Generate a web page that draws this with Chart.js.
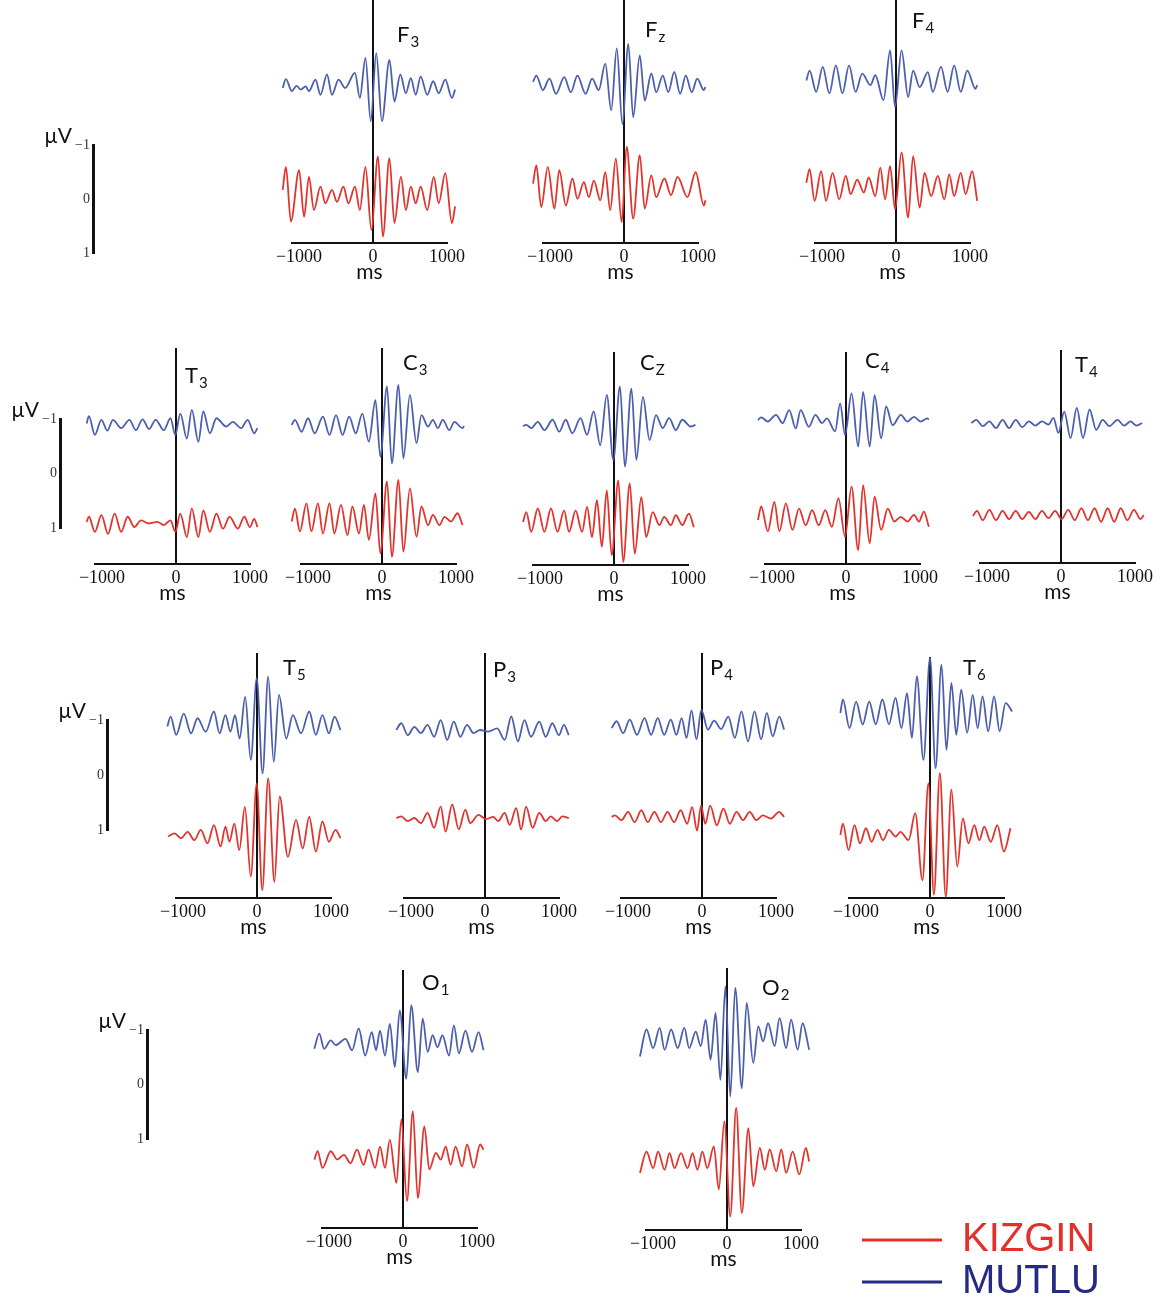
<!DOCTYPE html>
<html>
<head>
<meta charset="utf-8">
<title>KIZGIN / MUTLU</title>
<script src="https://cdn.jsdelivr.net/npm/chart.js@4.4.0/dist/chart.umd.min.js"></script>
<style>
    html, body { margin: 0; background: #fff; }
    #figure { position: relative; width: 1161px; height: 1302px; overflow: hidden; }
    .panel { position: absolute; }
</style>
</head>
<body>
<div id="figure"></div>
<script>
// Electrodes, with the letter and subscript used for each panel title
const ELECTRODES = ['F3', 'Fz', 'F4', 'T3', 'C3', 'Cz', 'C4', 'T4', 'T5', 'P3', 'P4', 'T6', 'O1', 'O2'];
const ELECTRODE_TEXT = [['F', '3'], ['F', 'z'], ['F', '4'], ['T', '3'], ['C', '3'], ['C', 'Z'], ['C', '4'], ['T', '4'], ['T', '5'], ['P', '3'], ['P', '4'], ['T', '6'], ['O', '1'], ['O', '2']];
const GROUPS = ['KIZGIN', 'MUTLU'];
const X_TICKS = [-1000, 0, 1000];
const SCALE_TICKS = [-1, 0, 1];

// Averaged waveforms as [time ms, amplitude µV] at successive peaks and troughs (negative up)
const F3_MUTLU = [[-1221, 0], [-1177, -0.17], [-1097, 0.06], [-1035, -0.04], [-977, 0.03], [-910, -0.03], [-866, 0.06], [-777, -0.16], [-710, 0.13], [-622, -0.26], [-555, 0.13], [-466, -0.16], [-377, 0], [-244, -0.29], [-178, 0.19], [-102, -0.58], [-31, 0.64], [44, -0.67], [120, 0.64], [222, -0.54], [289, 0.26], [369, -0.26], [444, 0.10], [511, -0.19], [577, 0.13], [644, -0.22], [733, 0.13], [813, -0.13], [888, 0.10], [977, -0.16], [1066, 0.19], [1110, 0.03]];
const F3_KIZGIN = [[-1221, -0.10], [-1177, -0.54], [-1110, 0.51], [-999, -0.48], [-932, 0.42], [-866, -0.35], [-799, 0.29], [-710, -0.16], [-644, 0.16], [-555, -0.10], [-488, 0.13], [-400, -0.16], [-333, 0.16], [-244, -0.16], [-178, 0.29], [-102, -0.54], [-22, 0.67], [67, -0.74], [133, 0.80], [222, -0.71], [289, 0.54], [377, -0.35], [444, 0.29], [511, -0.16], [577, 0.16], [644, -0.16], [733, 0.29], [821, -0.35], [888, 0.16], [977, -0.42], [1066, 0.54], [1110, 0.22]];
const FZ_MUTLU = [[-1230, -0.10], [-1185, -0.22], [-1097, 0.06], [-1008, -0.16], [-919, 0.13], [-808, -0.19], [-719, 0.10], [-630, -0.22], [-519, 0.13], [-431, -0.16], [-342, 0.06], [-253, -0.45], [-173, 0.45], [-98, -0.74], [-22, 0.71], [58, -0.83], [124, 0.58], [213, -0.61], [280, 0.26], [369, -0.26], [435, 0.10], [524, -0.22], [599, 0.10], [679, -0.29], [759, 0.13], [835, -0.22], [915, 0.10], [990, -0.16], [1079, 0.06], [1101, 0]];
const FZ_KIZGIN = [[-1230, -0.16], [-1185, -0.51], [-1119, 0.29], [-1030, -0.48], [-941, 0.32], [-875, -0.42], [-786, 0.26], [-697, -0.26], [-630, 0.13], [-542, -0.19], [-475, 0.10], [-408, -0.22], [-320, 0.16], [-253, -0.38], [-186, 0.35], [-111, -0.64], [-31, 0.58], [36, -0.87], [124, 0.51], [213, -0.71], [280, 0.32], [369, -0.32], [435, 0.10], [546, -0.26], [635, 0.06], [724, -0.29], [857, 0.10], [968, -0.38], [1079, 0.26], [1101, 0.16]];
const F4_MUTLU = [[-1212, -0.03], [-1168, -0.22], [-1079, 0.19], [-990, -0.29], [-901, 0.22], [-813, -0.32], [-724, 0.22], [-635, -0.32], [-546, 0.19], [-457, -0.16], [-346, 0.06], [-280, -0.13], [-169, 0.35], [-80, -0.61], [-13, 0.48], [75, -0.61], [164, 0.29], [231, -0.22], [320, 0.10], [431, -0.19], [497, 0.19], [608, -0.29], [697, 0.19], [786, -0.32], [875, 0.19], [963, -0.22], [1074, 0.13], [1097, 0.06]];
const F4_KIZGIN = [[-1212, -0.16], [-1168, -0.42], [-1101, 0.19], [-1012, -0.38], [-946, 0.19], [-857, -0.35], [-768, 0.16], [-679, -0.29], [-613, 0.06], [-524, -0.22], [-435, 0.03], [-369, -0.26], [-280, 0.10], [-213, -0.45], [-147, 0.16], [-80, -0.48], [-13, 0.35], [75, -0.74], [164, 0.51], [231, -0.67], [320, 0.32], [386, -0.35], [475, 0.10], [564, -0.29], [653, 0.16], [719, -0.32], [786, 0.10], [875, -0.35], [941, 0.06], [1030, -0.38], [1097, 0.19]];
const T3_MUTLU = [[-1208, -0.03], [-1177, -0.17], [-1097, 0.19], [-1008, -0.10], [-928, 0.11], [-852, -0.10], [-741, 0.06], [-630, -0.10], [-542, 0.10], [-453, -0.11], [-364, 0.08], [-275, -0.10], [-164, 0.10], [-75, -0.13], [-9, 0.19], [58, -0.22], [147, 0.26], [213, -0.29], [302, 0.32], [369, -0.26], [457, 0.16], [546, -0.13], [679, 0.03], [768, -0.06], [879, 0.06], [968, -0.10], [1057, 0.16], [1101, 0.06]];
const T3_KIZGIN = [[-1208, -0.02], [-1177, -0.12], [-1097, 0.17], [-1008, -0.15], [-919, 0.21], [-830, -0.18], [-741, 0.17], [-653, -0.12], [-564, 0.08], [-475, -0.05], [-364, 0.01], [-253, -0.02], [-164, 0.04], [-75, -0.05], [-9, 0.17], [58, -0.18], [147, 0.27], [213, -0.28], [302, 0.27], [369, -0.24], [457, 0.17], [546, -0.18], [635, 0.11], [724, -0.12], [835, 0.11], [923, -0.12], [999, 0.08], [1057, -0.08], [1101, 0.08]];
const C3_MUTLU = [[-1221, 0], [-1177, -0.10], [-1088, 0.13], [-999, -0.13], [-910, 0.16], [-799, -0.16], [-710, 0.19], [-622, -0.19], [-533, 0.19], [-444, -0.16], [-355, 0.16], [-266, -0.22], [-178, 0.32], [-89, -0.48], [-22, 0.61], [67, -0.74], [133, 0.74], [222, -0.77], [289, 0.64], [377, -0.58], [466, 0.35], [533, -0.19], [622, 0.03], [688, -0.10], [755, 0.06], [821, -0.10], [910, 0.10], [977, -0.06], [1088, 0.06], [1110, 0.02]];
const C3_KIZGIN = [[-1221, 0.03], [-1177, -0.22], [-1110, 0.22], [-1021, -0.32], [-955, 0.22], [-866, -0.32], [-799, 0.26], [-710, -0.32], [-644, 0.26], [-555, -0.29], [-466, 0.29], [-400, -0.26], [-311, 0.26], [-244, -0.29], [-178, 0.38], [-89, -0.51], [-22, 0.64], [67, -0.74], [133, 0.71], [222, -0.77], [289, 0.61], [377, -0.61], [466, 0.32], [533, -0.26], [622, 0.10], [688, -0.10], [777, 0.10], [844, -0.06], [932, 0.03], [1021, -0.13], [1088, 0.10]];
const CZ_MUTLU = [[-1230, 0], [-1185, -0.02], [-1119, 0.04], [-1030, -0.08], [-941, 0.08], [-830, -0.12], [-741, 0.11], [-653, -0.12], [-564, 0.14], [-453, -0.15], [-364, 0.17], [-275, -0.28], [-186, 0.37], [-98, -0.60], [-9, 0.65], [80, -0.76], [147, 0.78], [235, -0.72], [302, 0.65], [391, -0.56], [480, 0.27], [568, -0.21], [657, 0.04], [746, -0.15], [835, 0.08], [923, -0.12], [1035, 0.01], [1101, -0.02]];
const CZ_KIZGIN = [[-1230, 0], [-1185, -0.19], [-1119, 0.19], [-1030, -0.26], [-941, 0.19], [-852, -0.26], [-764, 0.19], [-675, -0.22], [-608, 0.19], [-519, -0.22], [-431, 0.19], [-364, -0.29], [-297, 0.29], [-231, -0.42], [-164, 0.48], [-98, -0.61], [-31, 0.64], [58, -0.80], [124, 0.77], [213, -0.74], [280, 0.61], [369, -0.48], [435, 0.29], [524, -0.19], [613, 0.06], [679, -0.10], [768, 0.06], [835, -0.13], [923, 0.06], [1012, -0.16], [1079, 0.10]];
const C4_MUTLU = [[-1190, 0], [-1146, -0.05], [-1057, 0.03], [-946, -0.10], [-857, 0.06], [-768, -0.19], [-679, 0.16], [-613, -0.19], [-502, 0.13], [-413, -0.10], [-324, 0.06], [-258, -0.03], [-147, 0.22], [-80, -0.32], [-13, 0.29], [75, -0.51], [164, 0.51], [231, -0.54], [320, 0.51], [386, -0.48], [475, 0.35], [542, -0.26], [630, 0.10], [741, -0.10], [830, 0.03], [919, -0.06], [1008, 0.03], [1097, -0.03], [1119, -0.01]];
const C4_KIZGIN = [[-1190, 0], [-1146, -0.26], [-1057, 0.22], [-968, -0.35], [-901, 0.22], [-813, -0.32], [-724, 0.19], [-635, -0.22], [-546, 0.10], [-457, -0.19], [-369, 0.10], [-280, -0.19], [-191, 0.13], [-102, -0.42], [-13, 0.32], [75, -0.64], [164, 0.58], [231, -0.67], [320, 0.45], [386, -0.45], [475, 0.19], [564, -0.22], [653, 0.03], [741, -0.06], [830, 0.03], [919, -0.10], [986, 0.03], [1052, -0.16], [1119, 0.13]];
const T4_MUTLU = [[-1212, 0], [-1146, -0.06], [-1057, 0.06], [-968, -0.03], [-879, 0.10], [-790, -0.06], [-702, 0.10], [-613, -0.06], [-524, 0.08], [-435, -0.03], [-346, 0.05], [-258, -0.03], [-169, 0.03], [-102, -0.10], [-36, 0.19], [44, -0.22], [129, 0.29], [213, -0.29], [297, 0.29], [386, -0.26], [475, 0.13], [564, -0.06], [653, 0.06], [764, -0.06], [852, 0.05], [941, -0.03], [1020, 0.05], [1097, 0]];
const T4_KIZGIN = [[-1190, 0.02], [-1137, -0.08], [-1057, 0.10], [-968, -0.10], [-879, 0.10], [-790, -0.08], [-702, 0.08], [-613, -0.08], [-524, 0.08], [-435, -0.06], [-346, 0.08], [-258, -0.08], [-169, 0.06], [-80, -0.08], [9, 0.08], [98, -0.10], [186, 0.10], [275, -0.13], [364, 0.10], [453, -0.13], [542, 0.13], [630, -0.13], [719, 0.13], [808, -0.13], [897, 0.10], [986, -0.10], [1074, 0.08], [1119, 0]];
const T5_MUTLU = [[-1212, 0.03], [-1168, -0.16], [-1092, 0.19], [-990, -0.22], [-892, 0.16], [-804, -0.13], [-693, 0.13], [-582, -0.26], [-506, 0.16], [-426, -0.19], [-360, 0.13], [-297, -0.19], [-235, 0.26], [-160, -0.54], [-84, 0.67], [-4, -0.90], [75, 0.93], [151, -0.93], [226, 0.71], [297, -0.58], [395, 0.26], [484, -0.19], [595, 0.16], [706, -0.26], [795, 0.19], [884, -0.19], [972, 0.16], [1048, -0.16], [1128, 0.10]];
const T5_KIZGIN = [[-1203, 0.03], [-1114, -0.03], [-1026, 0.06], [-937, -0.06], [-848, 0.10], [-759, -0.10], [-670, 0.16], [-582, -0.19], [-493, 0.22], [-426, -0.16], [-373, 0.13], [-306, -0.22], [-240, 0.29], [-164, -0.54], [-84, 0.80], [-4, -0.99], [71, 1.06], [151, -1.09], [235, 0.90], [306, -0.74], [417, 0.42], [528, -0.29], [617, 0.26], [706, -0.35], [795, 0.32], [884, -0.26], [972, 0.13], [1061, -0.10], [1128, 0.06]];
const P3_MUTLU = [[-1199, 0], [-1132, -0.13], [-1043, 0.10], [-955, -0.06], [-866, 0.06], [-777, -0.10], [-688, 0.13], [-599, -0.19], [-511, 0.19], [-422, -0.16], [-333, 0.13], [-244, -0.10], [-155, 0.06], [-67, 0], [44, 0.03], [164, -0.03], [266, 0.19], [355, -0.26], [444, 0.22], [533, -0.19], [622, 0.13], [733, -0.16], [821, 0.13], [910, -0.13], [999, 0.10], [1066, -0.10], [1132, 0.10]];
const P3_KIZGIN = [[-1199, 0], [-1132, -0.03], [-1043, 0.06], [-955, 0], [-866, 0.10], [-777, -0.10], [-688, 0.19], [-599, -0.22], [-533, 0.26], [-444, -0.26], [-355, 0.22], [-266, -0.16], [-200, 0.10], [-89, -0.06], [13, 0.02], [111, -0.02], [178, 0.06], [266, -0.10], [333, 0.13], [422, -0.19], [488, 0.22], [555, -0.22], [644, 0.19], [733, -0.10], [821, 0.06], [888, -0.03], [977, 0.06], [1043, -0.03], [1132, 0]];
const P4_MUTLU = [[-1221, 0], [-1154, -0.13], [-1066, 0.10], [-977, -0.16], [-879, 0.13], [-777, -0.19], [-688, 0.13], [-599, -0.19], [-511, 0.13], [-422, -0.16], [-346, 0.13], [-275, -0.19], [-209, 0.19], [-142, -0.34], [-75, 0.22], [-9, -0.35], [80, 0.03], [164, -0.14], [258, 0.02], [355, -0.22], [444, 0.19], [533, -0.32], [622, 0.26], [710, -0.32], [799, 0.22], [875, -0.29], [955, 0.16], [1043, -0.22], [1110, 0.03]];
const P4_KIZGIN = [[-1221, 0], [-1177, -0.03], [-1088, 0.06], [-999, -0.10], [-910, 0.10], [-821, -0.13], [-733, 0.10], [-644, -0.10], [-555, 0.10], [-466, -0.10], [-377, 0.10], [-289, -0.13], [-200, 0.13], [-133, -0.19], [-67, 0.26], [-13, -0.22], [44, 0.13], [111, -0.22], [200, 0.16], [289, -0.16], [377, 0.13], [466, -0.10], [555, 0.06], [644, -0.10], [733, 0.06], [821, -0.03], [932, 0.03], [1043, -0.10], [1110, 0]];
const T6_MUTLU = [[-1212, 0], [-1177, -0.26], [-1088, 0.29], [-999, -0.22], [-910, 0.22], [-821, -0.22], [-733, 0.22], [-644, -0.26], [-555, 0.22], [-466, -0.29], [-386, 0.29], [-311, -0.38], [-244, 0.48], [-178, -0.71], [-89, 0.90], [0, -1.06], [75, 1.06], [155, -0.93], [222, 0.71], [289, -0.58], [355, 0.42], [422, -0.45], [502, 0.38], [577, -0.35], [644, 0.29], [710, -0.32], [786, 0.35], [866, -0.32], [941, 0.35], [1021, -0.19], [1110, -0.03]];
const T6_KIZGIN = [[-1212, 0], [-1177, -0.22], [-1101, 0.29], [-1021, -0.19], [-946, 0.16], [-866, -0.13], [-790, 0.13], [-710, -0.10], [-635, 0.10], [-555, -0.10], [-466, 0.03], [-400, -0.06], [-289, 0.10], [-200, -0.42], [-102, 0.87], [-22, -0.99], [53, 1.15], [133, -1.19], [213, 1.19], [289, -0.87], [368, 0.61], [444, -0.32], [519, 0.16], [599, -0.19], [666, 0.10], [733, -0.16], [821, 0.13], [910, -0.19], [999, 0.32], [1088, -0.13]];
const O1_MUTLU = [[-1199, 0.13], [-1132, -0.16], [-1066, 0.13], [-977, -0.03], [-910, 0.06], [-777, -0.06], [-688, 0.16], [-599, -0.26], [-511, 0.26], [-422, -0.19], [-364, 0.16], [-311, -0.22], [-244, 0.26], [-178, -0.35], [-111, 0.48], [-44, -0.61], [44, 0.71], [111, -0.71], [200, 0.58], [266, -0.45], [333, 0.19], [400, -0.13], [466, 0.10], [533, -0.13], [622, 0.26], [688, -0.32], [755, 0.22], [844, -0.22], [932, 0.19], [1021, -0.19], [1088, 0.16]];
const O1_KIZGIN = [[-1199, 0.03], [-1154, -0.13], [-1088, 0.19], [-977, -0.13], [-888, 0.03], [-799, -0.06], [-710, 0.10], [-622, -0.16], [-533, 0.13], [-466, -0.16], [-377, 0.19], [-311, -0.22], [-244, 0.19], [-178, -0.35], [-89, 0.48], [-22, -0.74], [53, 0.83], [133, -0.90], [200, 0.77], [289, -0.61], [355, 0.22], [444, -0.10], [511, 0.03], [577, -0.22], [644, 0.13], [710, -0.22], [799, 0.16], [866, -0.26], [955, 0.19], [1043, -0.26], [1088, -0.16]];
const O2_MUTLU = [[-1177, 0.26], [-1088, -0.26], [-999, 0.10], [-910, -0.29], [-844, 0.13], [-755, -0.26], [-666, 0.10], [-577, -0.29], [-511, 0.10], [-422, -0.22], [-355, 0.06], [-289, -0.45], [-222, 0.32], [-155, -0.58], [-89, 0.71], [-22, -1.09], [44, 1.03], [111, -1.06], [200, 0.87], [266, -0.77], [355, 0.38], [422, -0.32], [488, -0.03], [555, -0.38], [644, 0.06], [710, -0.48], [799, 0.10], [866, -0.45], [955, 0.13], [1021, -0.38], [1110, 0.13]];
const O2_KIZGIN = [[-1177, 0.19], [-1088, -0.22], [-999, 0.10], [-932, -0.22], [-844, 0.13], [-777, -0.19], [-710, 0.10], [-622, -0.19], [-533, 0.10], [-466, -0.19], [-400, 0.13], [-333, -0.22], [-266, 0.10], [-178, -0.32], [-111, 0.51], [-36, -0.80], [44, 1.03], [124, -1.06], [200, 0.96], [289, -0.67], [355, 0.45], [444, -0.29], [511, 0.13], [577, -0.26], [666, 0.16], [733, -0.26], [799, 0.19], [888, -0.22], [977, 0.22], [1066, -0.29], [1110, -0.03]];

const TRACES = {
    F3: [F3_KIZGIN, F3_MUTLU], Fz: [FZ_KIZGIN, FZ_MUTLU], F4: [F4_KIZGIN, F4_MUTLU],
    T3: [T3_KIZGIN, T3_MUTLU], C3: [C3_KIZGIN, C3_MUTLU], Cz: [CZ_KIZGIN, CZ_MUTLU],
    C4: [C4_KIZGIN, C4_MUTLU], T4: [T4_KIZGIN, T4_MUTLU], T5: [T5_KIZGIN, T5_MUTLU],
    P3: [P3_KIZGIN, P3_MUTLU], P4: [P4_KIZGIN, P4_MUTLU], T6: [T6_KIZGIN, T6_MUTLU],
    O1: [O1_KIZGIN, O1_MUTLU], O2: [O2_KIZGIN, O2_MUTLU],
};

// Page geometry: zero line x, top of zero line, x-axis y, trace baselines, title offset from the zero line
const LAYOUT = [
    { x0: 373, top: 0, axis: 243, red: 195, blue: 88, lx: 24, ly: 42 },
    { x0: 624, top: 0, axis: 243, red: 192, blue: 87, lx: 21, ly: 37 },
    { x0: 896, top: 0, axis: 243, red: 191, blue: 82, lx: 16, ly: 28 },
    { x0: 176, top: 348, axis: 564, red: 523, blue: 425, lx: 9, ly: 35 },
    { x0: 382, top: 348, axis: 564, red: 520, blue: 425, lx: 21, ly: 22 },
    { x0: 614, top: 352, axis: 565, red: 522, blue: 426, lx: 26, ly: 18 },
    { x0: 846, top: 352, axis: 564, red: 520, blue: 420, lx: 19, ly: 16 },
    { x0: 1061, top: 350, axis: 563, red: 515, blue: 423, lx: 14, ly: 22 },
    { x0: 257, top: 653, axis: 898, red: 835, blue: 725, lx: 26, ly: 22 },
    { x0: 485, top: 653, axis: 898, red: 818, blue: 730, lx: 8, ly: 24 },
    { x0: 702, top: 653, axis: 898, red: 817, blue: 728, lx: 8, ly: 22 },
    { x0: 930, top: 657, axis: 898, red: 835, blue: 713, lx: 33, ly: 18 },
    { x0: 403, top: 970, axis: 1228, red: 1158, blue: 1042, lx: 19, ly: 20 },
    { x0: 727, top: 968, axis: 1230, red: 1163, blue: 1043, lx: 35, ly: 27 },
];
const SCALE_BARS = [
    { x: 93, top: 145, bottom: 255 },
    { x: 60, top: 419, bottom: 530 },
    { x: 107, top: 720, bottom: 832 },
    { x: 147, top: 1030, bottom: 1141 },
];

const X_MIN = -1095;
const X_MAX = 1000;
const AREA_W = 155;
const PAD_X = 30;
const AXIS_BAND = 43;
const PX_PER_UV = 52;

const INK = '#111';
const COLORS = { KIZGIN: '#e1342d', MUTLU: '#4c5fae' };
const LEGEND_COLORS = { KIZGIN: '#e3302a', MUTLU: '#262a80' };
const SERIF = '"Liberation Serif", "Times New Roman", serif';
const SANS = 'Lato, "Open Sans", sans-serif';

const figure = document.getElementById('figure');
const minus = (v) => (v < 0 ? '\u2212' + Math.abs(v) : String(v));

const addHost = (left, top, width, height) => {
    const host = document.createElement('div');
    host.className = 'panel';
    Object.assign(host.style, { left: `${left}px`, top: `${top}px`, width: `${width}px`, height: `${height}px` });
    const canvas = document.createElement('canvas');
    host.appendChild(canvas);
    figure.appendChild(host);
    return canvas;
};

const electrodeTitle = ([main, sub], dx, dy) => ({
    id: 'electrodeTitle',
    afterDraw(chart) {
        const { ctx, chartArea } = chart;
        const x = chart.scales.x.getPixelForValue(0) + dx;
        const y = chartArea.top + dy;
        ctx.save();
        ctx.fillStyle = INK;
        ctx.textBaseline = 'alphabetic';
        ctx.font = `22px ${SANS}`;
        ctx.fillText(main, x, y);
        const w = ctx.measureText(main).width;
        ctx.font = `15px ${SANS}`;
        ctx.fillText(sub, x + w + 1, y + 5);
        ctx.restore();
    },
});

const unitLabel = {
    id: 'unitLabel',
    afterDraw(chart) {
        const { ctx, chartArea } = chart;
        ctx.save();
        ctx.fillStyle = INK;
        ctx.textAlign = 'right';
        ctx.textBaseline = 'alphabetic';
        ctx.font = `21px ${SANS}`;
        ctx.fillText('\u00b5V', chartArea.left - 21, chartArea.top - 2);
        ctx.restore();
    },
};

const baseOptions = {
    animation: false,
    responsive: true,
    maintainAspectRatio: false,
    events: [],
    plugins: { legend: { display: false }, tooltip: { enabled: false } },
};

ELECTRODES.forEach((name, i) => {
    const box = LAYOUT[i];
    const areaH = box.axis - box.top;
    const left = box.x0 - PAD_X - Math.round((-X_MIN / (X_MAX - X_MIN)) * AREA_W);
    const canvas = addHost(left, box.top, AREA_W + 2 * PAD_X, areaH + AXIS_BAND);

    const datasets = GROUPS.map((group, g) => {
        const base = ((group === 'KIZGIN' ? box.red : box.blue) - box.top) / PX_PER_UV;
        return {
            label: group,
            data: TRACES[name][g].map(([ms, uv]) => ({ x: ms, y: base + uv })),
            borderColor: COLORS[group],
            borderWidth: 1.8,
            pointRadius: 0,
            cubicInterpolationMode: 'monotone',
            clip: false,
        };
    });

    new Chart(canvas, {
        type: 'line',
        data: { datasets },
        options: {
            ...baseOptions,
            layout: { padding: { left: PAD_X, right: PAD_X, top: 0, bottom: 0 } },
            elements: { line: { capBezierPoints: false } },
            scales: {
                x: {
                    type: 'linear',
                    bounds: 'data',
                    z: 1,
                    // set the range here rather than via min/max so the trace ends past ±1000 ms are kept
                    afterDataLimits: (scale) => {
                        scale.min = X_MIN;
                        scale.max = X_MAX;
                    },
                    afterBuildTicks: (scale) => {
                        scale.ticks = X_TICKS.map((value) => ({ value }));
                    },
                    afterFit: (scale) => {
                        scale.height = AXIS_BAND;
                    },
                    grid: {
                        drawTicks: false,
                        lineWidth: 2,
                        color: (ctx) => (ctx.tick && ctx.tick.value === 0 ? INK : 'rgba(0,0,0,0)'),
                    },
                    border: { color: INK, width: 2 },
                    ticks: {
                        autoSkip: false,
                        maxRotation: 0,
                        padding: 5,
                        color: INK,
                        font: { family: SERIF, size: 18, lineHeight: 1 },
                        callback: (v) => minus(v),
                    },
                    title: {
                        display: true,
                        text: 'ms',
                        color: INK,
                        font: { family: SANS, size: 21, lineHeight: 1 },
                        padding: { top: 0, bottom: 3 },
                    },
                },
                y: { type: 'linear', display: false, reverse: true, min: 0, max: areaH / PX_PER_UV },
            },
        },
        plugins: [electrodeTitle(ELECTRODE_TEXT[i], box.lx, box.ly)],
    });
});

// µV calibration bars, one per row
SCALE_BARS.forEach((bar) => {
    const canvas = addHost(bar.x - 80, bar.top - 22, 100, bar.bottom - bar.top + 32);
    new Chart(canvas, {
        type: 'line',
        data: { datasets: [] },
        options: {
            ...baseOptions,
            layout: { padding: { left: 40, right: 10, top: 22, bottom: 10 } },
            scales: {
                x: { display: false },
                y: {
                    type: 'linear',
                    min: -1,
                    max: 1,
                    reverse: true,
                    afterBuildTicks: (scale) => {
                        scale.ticks = SCALE_TICKS.map((value) => ({ value }));
                    },
                    afterFit: (scale) => {
                        scale.width = 40;
                    },
                    grid: { drawTicks: false, color: 'rgba(0,0,0,0)' },
                    border: { display: true, color: INK, width: 3 },
                    ticks: { padding: 3, color: '#333', font: { family: SERIF, size: 14 }, callback: (v) => minus(v) },
                },
            },
        },
        plugins: [unitLabel],
    });
});

// Group legend in the bottom right corner
const legendCanvas = addHost(860, 1218, 300, 84);
new Chart(legendCanvas, {
    type: 'line',
    data: {
        datasets: GROUPS.map((group) => ({ label: group, data: [], borderColor: LEGEND_COLORS[group], borderWidth: 3 })),
    },
    options: {
        ...baseOptions,
        layout: { padding: 0 },
        scales: { x: { display: false }, y: { display: false } },
        plugins: {
            tooltip: { enabled: false },
            legend: {
                display: true,
                position: 'top',
                align: 'start',
                maxHeight: 84,
                maxWidth: 300,
                labels: {
                    usePointStyle: true,
                    pointStyle: 'line',
                    pointStyleWidth: 80,
                    padding: 2,
                    font: { family: '"Liberation Sans", Arial, sans-serif', size: 40 },
                    generateLabels: (chart) => chart.data.datasets.map((ds, i) => ({
                        text: ds.label,
                        fontColor: ds.borderColor,
                        strokeStyle: ds.borderColor,
                        fillStyle: ds.borderColor,
                        lineWidth: 3,
                        pointStyle: 'line',
                        hidden: false,
                        datasetIndex: i,
                    })),
                },
            },
        },
    },
});
</script>
</body>
</html>
